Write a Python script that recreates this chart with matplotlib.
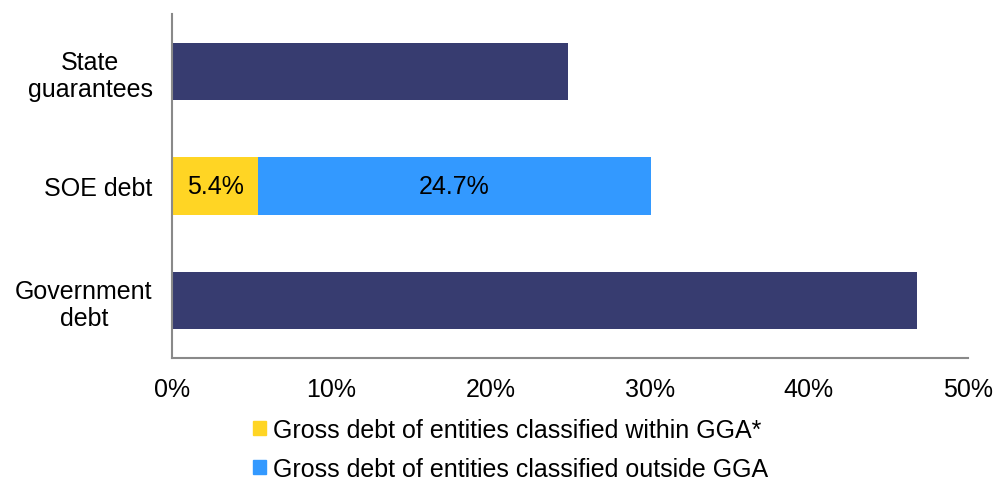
import matplotlib
matplotlib.use("Agg")
import matplotlib.pyplot as plt
from matplotlib.patches import Patch

plt.rcParams['font.family'] = ['Liberation Sans', 'DejaVu Sans']

categories = ["Government\ndebt", "SOE debt", "State\nguarantees"]
total_debt = [46.8, 0, 24.9]          # single-colour bars
within_gga = [0, 5.4, 0]
outside_gga = [0, 24.7, 0]
legend_labels = ["Gross debt of entities classified within GGA*",
                 "Gross debt of entities classified outside GGA"]
xticks = [0, 10, 20, 30, 40, 50]

navy = "#373C70"
yellow = "#FFD524"
blue = "#3399FF"
grey = "#898989"
fs = 18

W, H = 995, 481
fig = plt.figure(figsize=(W / 100, H / 100), dpi=100)
ax = fig.add_axes([172 / W, (H - 359) / H, (968 - 172) / W, (359 - 15) / H])

y = list(range(len(categories)))
ax.barh(y, total_debt, height=0.5, color=navy)
ax.barh(y, within_gga, height=0.5, color=yellow)
ax.barh(y, outside_gga, height=0.5, left=within_gga, color=blue)

# value labels on the SOE bar
for i in y:
    if within_gga[i]:
        ax.text(within_gga[i] / 2, i, f"{within_gga[i]:.1f}%", ha="center", va="center", fontsize=fs)
    if outside_gga[i]:
        ax.text(within_gga[i] + outside_gga[i] / 2, i, f"{outside_gga[i]:.1f}%",
                ha="center", va="center", fontsize=fs)

ax.set_xlim(0, 50)
ax.set_ylim(-0.5, 2.5)
ax.set_yticks(y)
ax.set_yticklabels(categories, fontsize=fs, linespacing=1.15, multialignment="center")
ax.set_xticks(xticks)
ax.set_xticklabels([f"{t}%" for t in xticks], fontsize=fs)
ax.tick_params(length=0, pad=14)
ax.tick_params(axis="y", pad=14)
for s in ["top", "right"]:
    ax.spines[s].set_visible(False)
for s in ["left", "bottom"]:
    ax.spines[s].set_color(grey)
    ax.spines[s].set_linewidth(1.5)

handles = [Patch(color=yellow), Patch(color=blue)]
fig.legend(handles, legend_labels, loc="upper left", bbox_to_anchor=(253 / W, 1 - 419 / H),
           frameon=False, fontsize=fs, handlelength=0.5, handleheight=0.5,
           handletextpad=0.3, labelspacing=0.6, borderaxespad=0, borderpad=0)

fig.savefig("out.png", dpi=100)
